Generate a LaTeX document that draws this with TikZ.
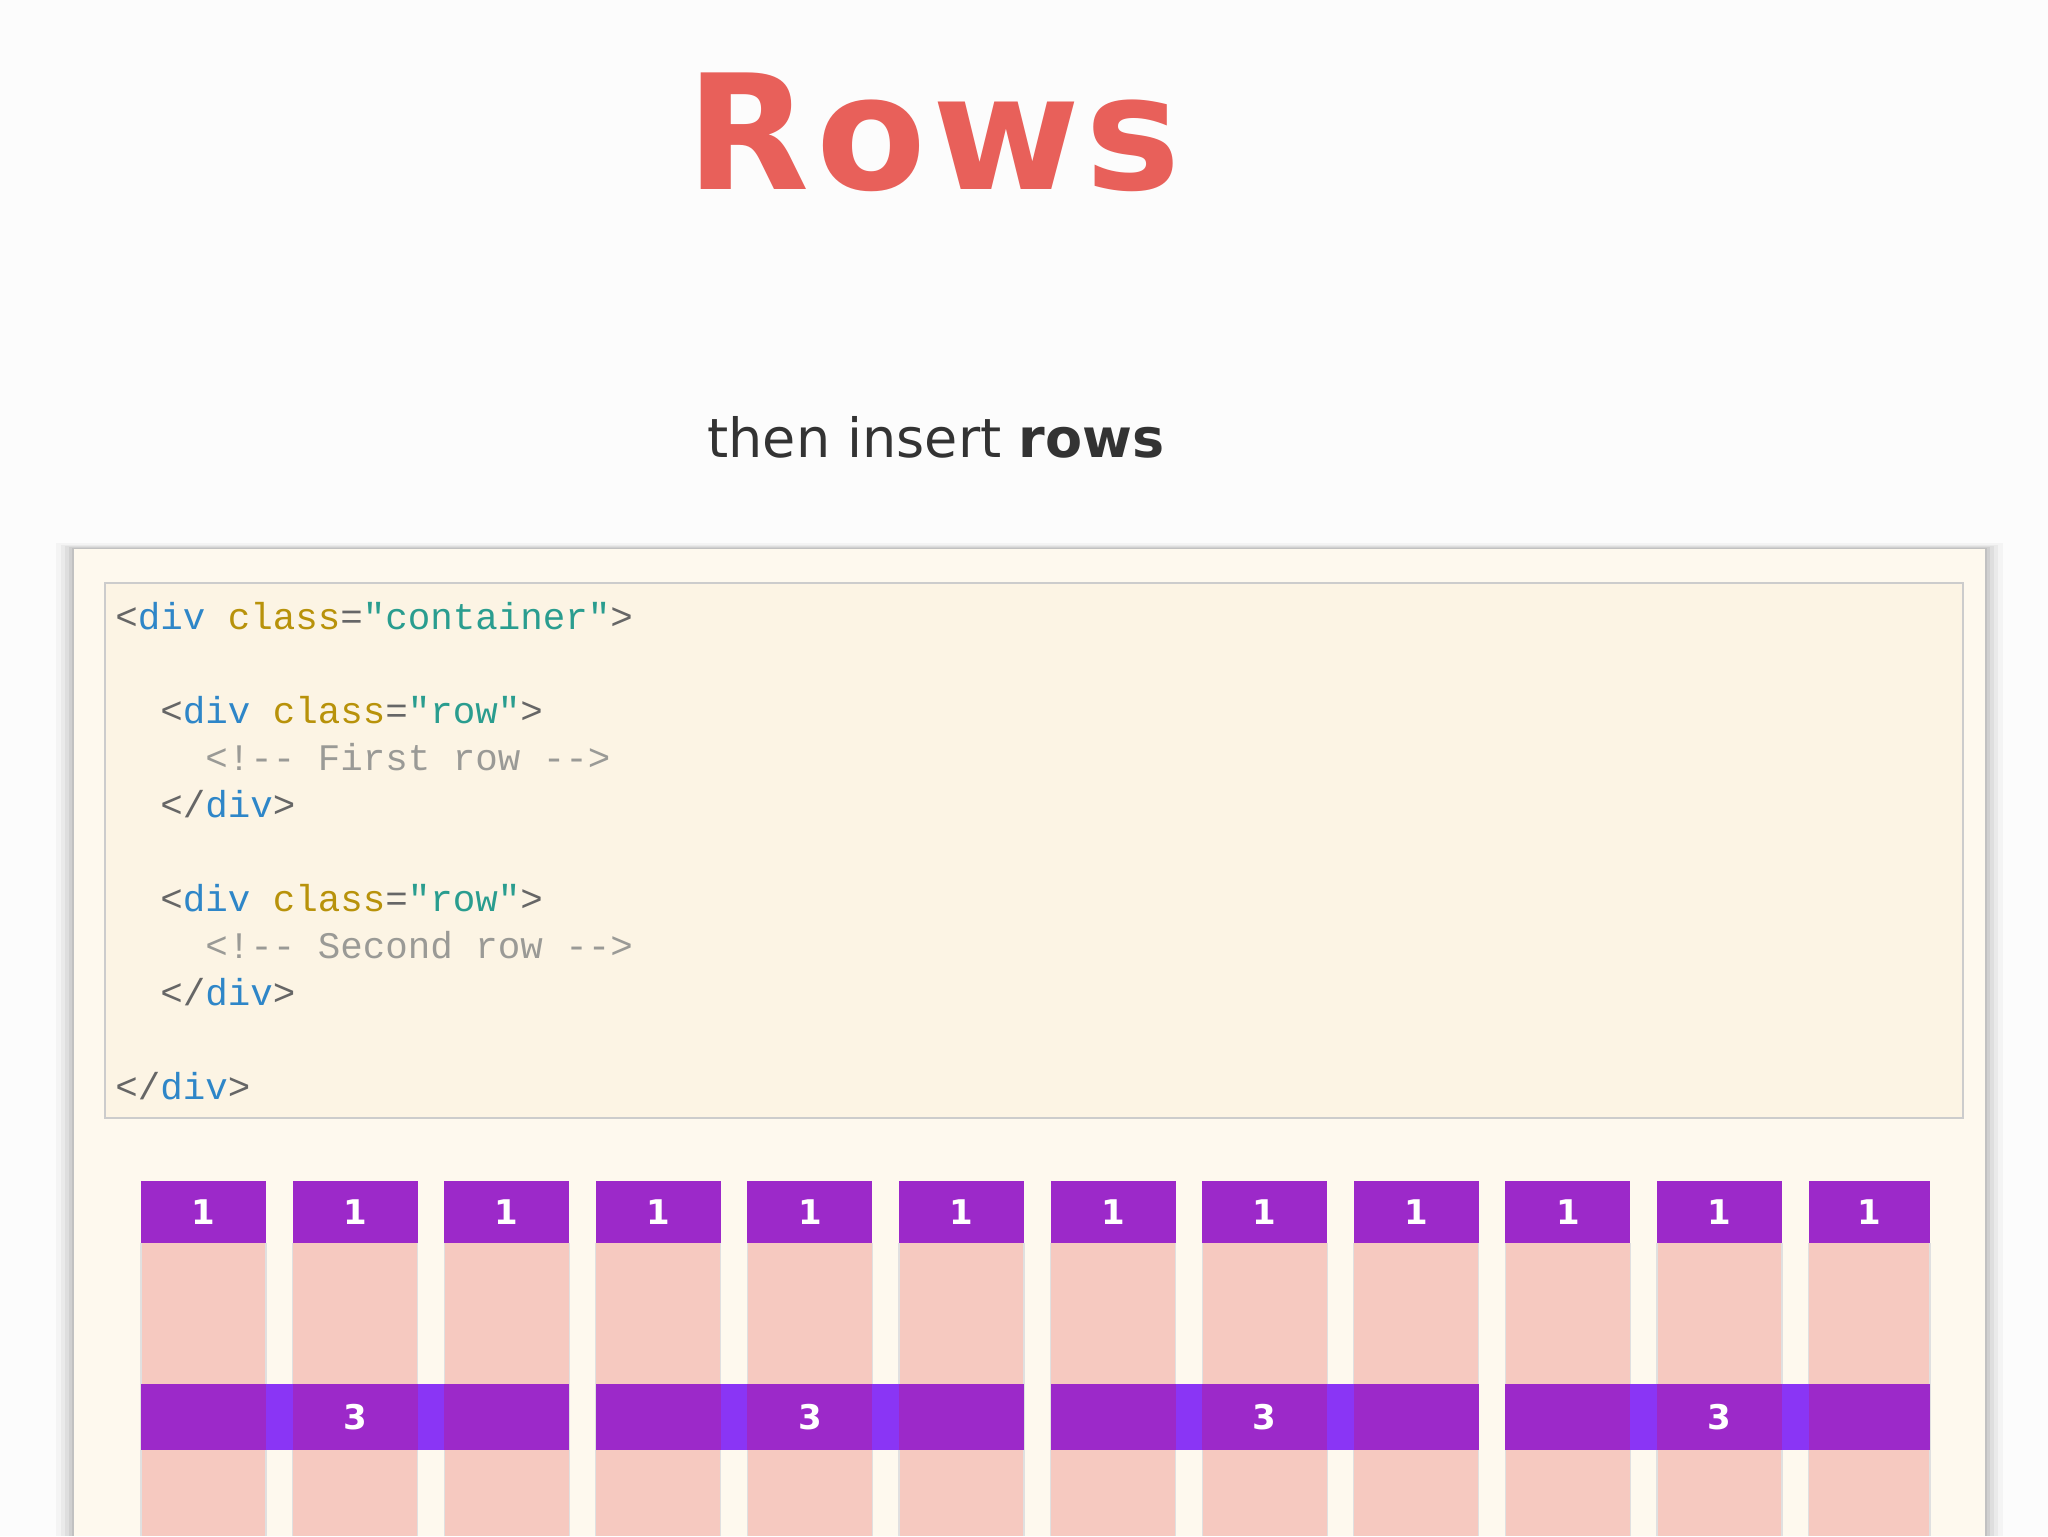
\documentclass[tikz,border=0pt]{standalone}
\usepackage{fontspec}
\setmainfont{DejaVu Sans}
\newfontfamily\codef{Liberation Mono}
\definecolor{titlec}{HTML}{E8605A}
\definecolor{subc}{HTML}{333333}
\definecolor{panel}{HTML}{FEF9EE}
\definecolor{codebg}{HTML}{FCF4E4}
\definecolor{brk}{HTML}{666666}
\definecolor{tagc}{HTML}{2E86C8}
\definecolor{attc}{HTML}{B8920A}
\definecolor{strc}{HTML}{2A9D8F}
\definecolor{comc}{HTML}{9A9A96}
\definecolor{purp}{HTML}{9C29C9}
\definecolor{viol}{HTML}{8A35F5}
\definecolor{pinkc}{HTML}{F6C9C0}
\newcommand{\B}[1]{\textcolor{brk}{#1}}
\newcommand{\T}[1]{\textcolor{tagc}{#1}}
\newcommand{\A}[1]{\textcolor{attc}{#1}}
\newcommand{\Sg}[1]{\textcolor{strc}{#1}}
\newcommand{\C}[1]{\textcolor{comc}{#1}}
\begin{document}
\begin{tikzpicture}[x=0.5pt,y=-0.5pt,
  code/.style={anchor=base west,inner sep=0,font=\codef\fontsize{18.75pt}{20pt}\selectfont},
  num/.style={text=white,font=\bfseries\fontsize{17pt}{18pt}\selectfont}]
\useasboundingbox (0,0) rectangle (2048,1536);
\fill[white!98!gray] (0,0) rectangle (2048,1536);
% title
\node[anchor=base,text=titlec,font=\bfseries\fontsize{80pt}{90pt}\selectfont] (title) at (934,189) {R\kern3pt o\kern3pt w\kern3pt s};
\node[anchor=base,text=subc,font=\fontsize{27pt}{30pt}\selectfont] (sub) at (936,457) {then insert \textbf{rows}};
% panel with shadow
\foreach \i/\o in {18/0.03,13/0.04,9/0.05,5/0.06,2/0.07}
  \fill[black,opacity=\o] (74-\i,549-\i/3) rectangle (1985+\i,1536);
\fill[panel] (74,549) rectangle (1985,1536);
\node[draw=black!20,fill=codebg,line width=1pt,minimum width=929pt,minimum height=267.5pt,anchor=north west,inner sep=0] (codebox) at (104,582) {};
% code
\def\lx{115}\def\pitch{47}\def\cw{22.5}
\node[code] (l0) at (\lx,629) {\B{<}\T{div} \A{class}\B{=}\Sg{"container"}\B{>}};
\node[code] (l2) at (\lx+2*\cw,629+2*\pitch) {\B{<}\T{div} \A{class}\B{=}\Sg{"row"}\B{>}};
\node[code] (l3) at (\lx+4*\cw,629+3*\pitch) {\C{<!-- First row -->}};
\node[code] (l4) at (\lx+2*\cw,629+4*\pitch) {\B{</}\T{div}\B{>}};
\node[code] (l6) at (\lx+2*\cw,629+6*\pitch) {\B{<}\T{div} \A{class}\B{=}\Sg{"row"}\B{>}};
\node[code] (l7) at (\lx+4*\cw,629+7*\pitch) {\C{<!-- Second row -->}};
\node[code] (l8) at (\lx+2*\cw,629+8*\pitch) {\B{</}\T{div}\B{>}};
\node[code] (l10) at (\lx,629+10*\pitch) {\B{</}\T{div}\B{>}};
% grid columns
\def\P{151.6}
\foreach \k in {0,...,11}{
  \pgfmathsetmacro\xa{141+\k*\P}
  \pgfmathsetmacro\xb{min(\xa+125,1930)}
  \fill[pinkc] (\xa,1243) rectangle (\xb,1536);
  \draw[black!12,line width=0.6pt] (\xa,1243) -- (\xa,1536) (\xb,1243) -- (\xb,1536);
  \fill[purp] (\xa,1181) rectangle (\xb,1243);
  \node[num] (c\k) at ({(\xa+\xb)/2},1212) {1};
}
% 3-span bars
\foreach \g in {0,...,3}{
  \pgfmathsetmacro\xa{141+\g*3*\P}
  \pgfmathsetmacro\xb{min(\xa+2*\P+125,1930)}
  \fill[viol] (\xa,1384) rectangle (\xb,1450);
  \foreach \j in {0,1,2}{
    \pgfmathsetmacro\ca{\xa+\j*\P}
    \pgfmathsetmacro\cb{min(\ca+125,1930)}
    \fill[purp] (\ca,1384) rectangle (\cb,1450);
  }
  \node[num] (t\g) at ({\xa+\P+62.5},1417) {3};
}
\end{tikzpicture}
\end{document}
